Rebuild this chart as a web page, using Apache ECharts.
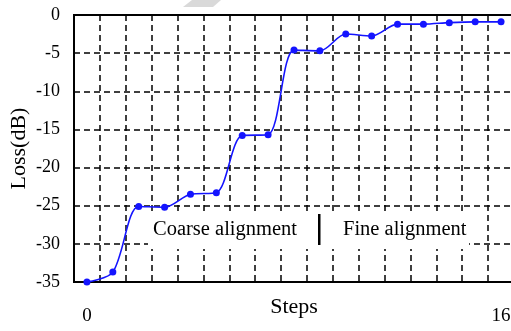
<!DOCTYPE html>
<html>
<head>
<meta charset="utf-8">
<script src="https://cdn.jsdelivr.net/npm/echarts@6/dist/echarts.min.js"></script>
<style>html,body{margin:0;padding:0;background:#fff}#c{width:511px;height:331px}</style>
</head>
<body>
<div id="c"></div>
<script>
const steps = [0, 1, 2, 3, 4, 5, 6, 7, 8, 9, 10, 11, 12, 13, 14, 15, 16];
const loss = [-35, -33.7, -25.1, -25.2, -23.5, -23.3, -15.8, -15.7, -4.6, -4.7, -2.5, -2.75, -1.2, -1.2, -1.0, -0.9, -0.9];
const xTickLabels = ['0', '16'];
const yTicks = [-35, -30, -25, -20, -15, -10, -5, 0];
const annotationLeft = 'Coarse alignment';
const annotationRight = 'Fine alignment';

const FONT = '"Liberation Serif", "Times New Roman", serif';
const chart = echarts.init(document.getElementById('c'), null, {renderer: 'canvas'});
const dash = [6, 4];
chart.setOption({
  animation: false,
  backgroundColor: '#fff',
  grid: {left: 74, top: 15, right: -3, bottom: 49, containLabel: false, outerBoundsMode: 'none',
    show: true, borderColor: '#000', borderWidth: 2, backgroundColor: 'transparent'},
  xAxis: [{
    type: 'value', min: -0.5, max: 16.5, interval: 1, position: 'bottom',
    name: 'Steps', nameLocation: 'middle', nameGap: 14, nameMoveOverlap: false,
    nameTextStyle: {fontFamily: FONT, fontSize: 22, color: '#000'},
    axisLine: {show: true, onZero: false, lineStyle: {color: '#000', width: 2}},
    axisTick: {show: false}, axisLabel: {show: false},
    splitLine: {show: true, lineStyle: {color: '#000', width: 1.5, type: dash}}
  }, {
    type: 'value', min: -0.5, max: 16.5, interval: 0.5, position: 'bottom', offset: 0,
    axisLine: {show: false, onZero: false}, axisTick: {show: false}, splitLine: {show: false},
    axisLabel: {show: true, margin: 25, fontFamily: FONT, fontSize: 19, color: '#000',
      formatter: v => (xTickLabels.indexOf(String(v)) >= 0 ? String(v) : '')}
  }],
  yAxis: {
    type: 'value', min: yTicks[0], max: yTicks[yTicks.length - 1], interval: 5,
    name: 'Loss(dB)', nameLocation: 'middle', nameGap: 44, nameMoveOverlap: false,
    nameTextStyle: {fontFamily: FONT, fontSize: 22, color: '#000'},
    axisLine: {show: true, onZero: false, lineStyle: {color: '#000', width: 2}},
    axisTick: {show: false},
    axisLabel: {margin: 14, fontFamily: FONT, fontSize: 18, color: '#000'},
    splitLine: {show: true, lineStyle: {color: '#000', width: 1.5, type: dash}}
  },
  series: [{
    type: 'line', xAxisIndex: 0,
    data: steps.map((s, i) => [s, loss[i]]),
    smooth: 0.3,
    symbol: 'circle', symbolSize: 7,
    lineStyle: {color: '#1414ff', width: 1.6},
    itemStyle: {color: '#1414ff'}
  }],
  graphic: [
    {type: 'polygon', shape: {points: [[183, 7], [192, 0], [221, 0], [213, 7]]}, style: {fill: '#d9d9d9'}},
    {type: 'rect', shape: {x: 148, y: 211, width: 321, height: 38}, style: {fill: '#fff'}, z: 10},
    {type: 'text', x: 153, y: 230, style: {text: annotationLeft, font: '20.5px ' + FONT, fill: '#000', verticalAlign: 'middle'}, z: 11},
    {type: 'rect', shape: {x: 318, y: 214, width: 2.5, height: 31}, style: {fill: '#000'}, z: 11},
    {type: 'text', x: 343, y: 230, style: {text: annotationRight, font: '20.5px ' + FONT, fill: '#000', verticalAlign: 'middle'}, z: 11}
  ]
});
</script>
</body>
</html>
